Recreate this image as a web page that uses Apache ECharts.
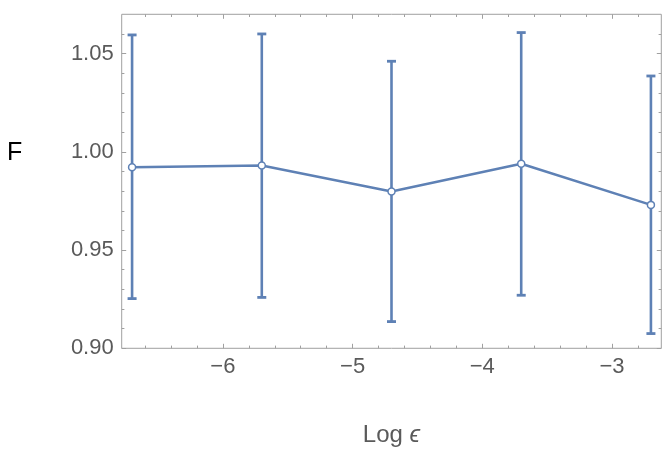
<!DOCTYPE html>
<html>
<head>
<meta charset="utf-8">
<script src="https://cdn.jsdelivr.net/npm/echarts@6/dist/echarts.min.js"></script>
<style>
html,body{margin:0;padding:0;background:#fff;}
#chart{width:664px;height:453px;}
</style>
</head>
<body>
<div id="chart"></div>
<script>
// Data
const logEps = [-6.7, -5.7, -4.7, -3.7, -2.7];
const meanF  = [0.9922, 0.9930, 0.9798, 0.9939, 0.9730];
const lowF   = [0.9253, 0.9259, 0.9136, 0.9270, 0.9075];
const highF  = [1.0595, 1.0600, 1.0461, 1.0607, 1.0386];

// Tick values
const xMajorTicks = [-6, -5, -4, -3];
const xMinorTicks = [-6.6, -6.4, -6.2, -5.8, -5.6, -5.4, -5.2, -4.8, -4.6, -4.4, -4.2, -3.8, -3.6, -3.4, -3.2, -2.8];
const yMajorTicks = [0.90, 0.95, 1.00, 1.05];
const yMinorTicks = [0.91, 0.92, 0.93, 0.94, 0.96, 0.97, 0.98, 0.99, 1.01, 1.02, 1.03, 1.04, 1.06];

const xName = '{n|Log }{e|\u03F5}';
const yName = 'F';

const BLUE = '#5e81b5';
const FRAME = '#a0a0a0';
const LABEL = '#5a5a5a';
const FONT = '"Liberation Sans", Arial, "DejaVu Sans", sans-serif';

const XMIN = -6.78, XMAX = -2.62, YMIN = 0.90, YMAX = 1.07;

const lineData = logEps.map((x, i) => [x, meanF[i]]);
const errData = logEps.map((x, i) => [x, lowF[i], highF[i]]);

function fmtMinus(v) {
  const s = String(Math.abs(v));
  return v < 0 ? '\u2212' + s : s;
}

function xAxisDef(pos, ticks, len, labels) {
  return {
    type: 'value', gridIndex: 0, position: pos, min: XMIN, max: XMAX,
    axisLine: { show: false },
    splitLine: { show: false },
    axisTick: { show: true, inside: true, length: len, customValues: ticks, lineStyle: { color: FRAME, width: 1 } },
    axisLabel: labels ? {
      show: true, customValues: ticks, margin: 8, fontSize: 22, color: LABEL, fontFamily: FONT,
      formatter: fmtMinus
    } : { show: false },
    name: labels ? xName : '',
    nameLocation: 'middle', nameGap: 75,
    nameTextStyle: {
      fontSize: 24, color: LABEL, fontFamily: FONT,
      rich: {
        n: { fontSize: 24, color: LABEL, fontFamily: FONT },
        e: { fontSize: 24, color: LABEL, fontFamily: FONT, fontStyle: 'italic' }
      }
    }
  };
}
function yAxisDef(pos, ticks, len, labels) {
  return {
    type: 'value', gridIndex: 0, position: pos, min: YMIN, max: YMAX,
    axisLine: { show: false },
    splitLine: { show: false },
    axisTick: { show: true, inside: true, length: len, customValues: ticks, lineStyle: { color: FRAME, width: 1 } },
    axisLabel: labels ? {
      show: true, customValues: ticks, margin: 8, fontSize: 22, color: LABEL, fontFamily: FONT,
      formatter: v => v.toFixed(2)
    } : { show: false }
  };
}

const chart = echarts.init(document.getElementById('chart'), null, { renderer: 'canvas' });
chart.setOption({
  animation: false,
  backgroundColor: '#fff',
  grid: {
    left: 121.7, right: 2.7, top: 14.3, bottom: 104.7,
    show: true, borderColor: FRAME, borderWidth: 1, backgroundColor: 'transparent',
    containLabel: false
  },
  graphic: [{
    type: 'text',
    x: 7, y: 153,
    style: {
      text: yName, fill: '#000', fontSize: 25, fontFamily: FONT,
      textAlign: 'left', textVerticalAlign: 'middle', verticalAlign: 'middle'
    }
  }],
  xAxis: [
    xAxisDef('bottom', xMajorTicks, 4.5, true),
    xAxisDef('top', xMajorTicks, 4.5, false),
    xAxisDef('bottom', xMinorTicks, 2.7, false),
    xAxisDef('top', xMinorTicks, 2.7, false)
  ],
  yAxis: [
    yAxisDef('left', yMajorTicks, 4.5, true),
    yAxisDef('right', yMajorTicks, 4.5, false),
    yAxisDef('left', yMinorTicks, 2.7, false),
    yAxisDef('right', yMinorTicks, 2.7, false)
  ],
  series: [
    {
      type: 'custom',
      xAxisIndex: 0, yAxisIndex: 0,
      data: errData,
      encode: { x: 0, y: [1, 2] },
      z: 2,
      renderItem: function (params, api) {
        const x = api.value(0), lo = api.value(1), hi = api.value(2);
        const pHi = api.coord([x, hi]);
        const pLo = api.coord([x, lo]);
        const hw = 4.5;
        return {
          type: 'group',
          children: [
            { type: 'line', shape: { x1: pHi[0], y1: pHi[1], x2: pLo[0], y2: pLo[1] }, style: { stroke: BLUE, lineWidth: 2.6 } },
            { type: 'line', shape: { x1: pHi[0] - hw, y1: pHi[1], x2: pHi[0] + hw, y2: pHi[1] }, style: { stroke: BLUE, lineWidth: 2.8 } },
            { type: 'line', shape: { x1: pLo[0] - hw, y1: pLo[1], x2: pLo[0] + hw, y2: pLo[1] }, style: { stroke: BLUE, lineWidth: 2.8 } }
          ]
        };
      }
    },
    {
      type: 'line',
      xAxisIndex: 0, yAxisIndex: 0,
      data: lineData,
      z: 3,
      symbol: 'circle',
      symbolSize: 7,
      lineStyle: { color: BLUE, width: 2.5 },
      itemStyle: { color: '#fff', borderColor: BLUE, borderWidth: 1.5 }
    }
  ]
});
</script>
</body>
</html>
